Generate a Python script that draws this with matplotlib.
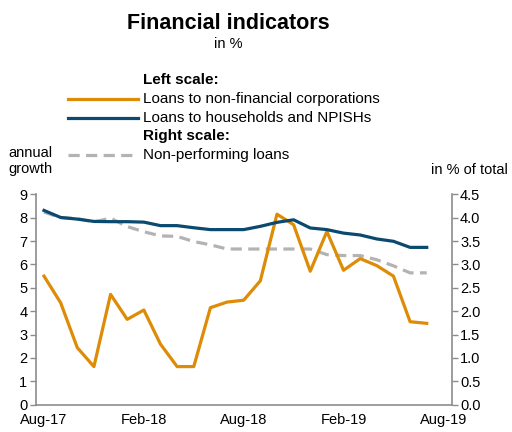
import matplotlib
matplotlib.use('Agg')
import matplotlib.pyplot as plt
from matplotlib.lines import Line2D

plt.rcParams['font.family'] = ['Liberation Sans', 'DejaVu Sans']

# monthly, Aug-17 .. Jul-19
months = ['Aug-17', 'Sep-17', 'Oct-17', 'Nov-17', 'Dec-17', 'Jan-18', 'Feb-18', 'Mar-18',
          'Apr-18', 'May-18', 'Jun-18', 'Jul-18', 'Aug-18', 'Sep-18', 'Oct-18', 'Nov-18',
          'Dec-18', 'Jan-19', 'Feb-19', 'Mar-19', 'Apr-19', 'May-19', 'Jun-19', 'Jul-19']
nfc_loans = [5.5, 4.36, 2.44, 1.63, 4.72, 3.65, 4.05, 2.59, 1.63, 1.63, 4.15, 4.39,
             4.47, 5.3, 8.15, 7.7, 5.71, 7.41, 5.75, 6.25, 5.95, 5.5, 3.55, 3.48]
hh_loans = [8.31, 8.01, 7.94, 7.84, 7.83, 7.83, 7.81, 7.66, 7.66, 7.57, 7.49, 7.49,
            7.49, 7.63, 7.8, 7.91, 7.56, 7.49, 7.34, 7.26, 7.09, 6.99, 6.73, 6.73]
npl = [4.12, 4.0, 3.98, 3.91, 3.99, 3.81, 3.7, 3.61, 3.6, 3.49, 3.42, 3.33,
       3.33, 3.33, 3.33, 3.33, 3.33, 3.21, 3.19, 3.19, 3.1, 2.97, 2.82, 2.82]
tick_labels = ['Aug-17', 'Feb-18', 'Aug-18', 'Feb-19', 'Aug-19']

orange = '#DE8B06'
blue = '#0B4A6F'
grey = '#B3B3B3'
spine_col = '#8C8C8C'

fig = plt.figure(figsize=(5.12, 4.32), dpi=100)
ax = fig.add_axes([0.0697, 0.0632, 0.8125, 0.487])
ax2 = ax.twinx()

x = list(range(len(months)))
ax.plot(x, nfc_loans, color=orange, lw=2.3, zorder=3)
ax.plot(x, hh_loans, color=blue, lw=2.3, zorder=3)
ax2.plot(x, npl, color=grey, lw=2.3, dashes=(3.5, 2))

ax.set_zorder(ax2.get_zorder() + 1)
ax.patch.set_visible(False)

ax.set_xlim(-0.5, 24.5)
ax.set_ylim(0, 9)
ax2.set_ylim(0, 4.5)
ax.set_yticks(range(0, 10))
ax2.set_yticks([i * 0.5 for i in range(10)])
ax2.set_yticklabels(['%.1f' % (i * 0.5) for i in range(10)])
ax.set_xticks([0, 6, 12, 18, 24])
ax.set_xticklabels(tick_labels)

for a in (ax, ax2):
    for s in a.spines.values():
        s.set_visible(False)
    a.tick_params(labelsize=10.5, colors=spine_col, labelcolor='black', length=4, width=1)
ax.spines['left'].set_visible(True)
ax.spines['bottom'].set_visible(True)
ax2.spines['right'].set_visible(True)
for s in (ax.spines['left'], ax.spines['bottom'], ax2.spines['right']):
    s.set_color(spine_col)
    s.set_linewidth(1.2)
ax.tick_params(axis='x', length=0, pad=6)
ax.tick_params(axis='y', pad=2)
ax2.tick_params(axis='y', pad=2)

# titles
fig.text(0.445, 0.945, 'Financial indicators', ha='center', va='center',
         fontsize=15.5, fontweight='bold')
fig.text(0.445, 0.898, 'in %', ha='center', va='center', fontsize=10.5)

# legend drawn by hand
rows = [('Left scale:', None), ('Loans to non-financial corporations', orange),
        ('Loans to households and NPISHs', blue), ('Right scale:', None),
        ('Non-performing loans', grey)]
y0 = 1 - 80 / 432
for i, (label, col) in enumerate(rows):
    y = y0 - i * 18.8 / 432
    if col is None:
        fig.text(143 / 512, y, label, ha='left', va='center', fontsize=11, fontweight='bold')
    else:
        fig.text(143 / 512, y, label, ha='left', va='center', fontsize=11)
        kw = dict(dashes=(3.5, 2)) if col == grey else {}
        fig.add_artist(Line2D([68 / 512, 138 / 512], [y, y], color=col, lw=2.3,
                              transform=fig.transFigure, **kw))

fig.text(8 / 512, 1 - 161 / 432, 'annual\ngrowth', ha='left', va='center',
         fontsize=10.5, linespacing=1.1)
fig.text(508 / 512, 1 - 170 / 432, 'in % of total', ha='right', va='center', fontsize=10.5)

fig.savefig('out.png', dpi=100)
